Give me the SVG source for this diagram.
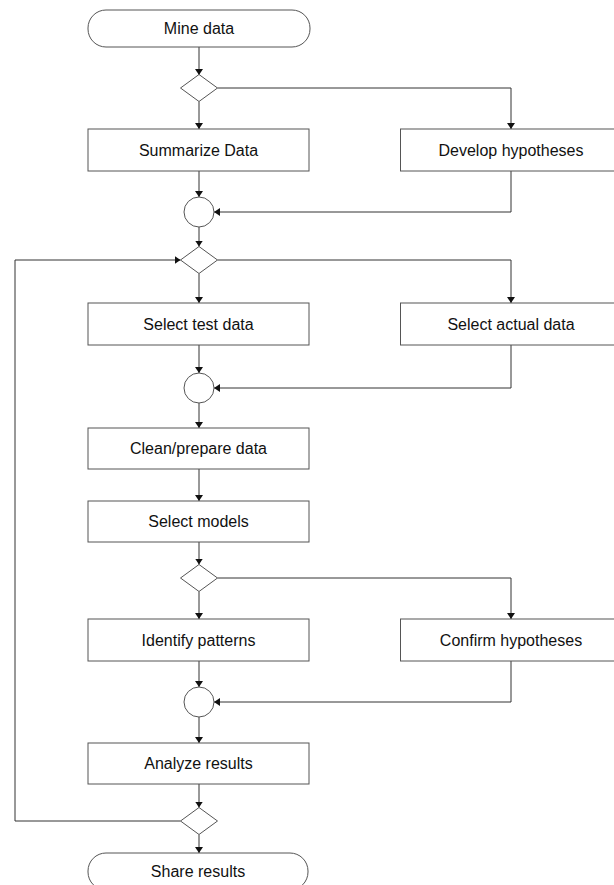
<svg xmlns="http://www.w3.org/2000/svg" width="614" height="885" viewBox="0 0 614 885">
<style>
.shape{fill:#fff;stroke:#555;stroke-width:1}
.lbl{font-family:"Liberation Sans",Arial,sans-serif;font-size:16px;fill:#111;text-anchor:middle}
.conn{fill:none;stroke:#333;stroke-width:1}
</style>
<defs>
<marker id="arr" viewBox="0 0 6 8" refX="6" refY="4" markerWidth="6" markerHeight="8" markerUnits="userSpaceOnUse" orient="auto">
<path d="M0,0 L6,4 L0,8 z" fill="#111"/>
</marker>
</defs>
<rect width="614" height="885" fill="#fff"/>
<g id="connectors">
<path class="conn" d="M199,47 V75" marker-end="url(#arr)"/>
<path class="conn" d="M199,101.5 V129" marker-end="url(#arr)"/>
<path class="conn" d="M217.5,88 H511 V129" marker-end="url(#arr)"/>
<path class="conn" d="M199,171 V197" marker-end="url(#arr)"/>
<path class="conn" d="M511,171 V212 H214" marker-end="url(#arr)"/>
<path class="conn" d="M199,227 V246.5" marker-end="url(#arr)"/>
<path class="conn" d="M199,273.5 V303" marker-end="url(#arr)"/>
<path class="conn" d="M217.5,260 H511 V303" marker-end="url(#arr)"/>
<path class="conn" d="M199,345 V373" marker-end="url(#arr)"/>
<path class="conn" d="M511,345 V388 H214" marker-end="url(#arr)"/>
<path class="conn" d="M199,403 V428" marker-end="url(#arr)"/>
<path class="conn" d="M199,469 V501" marker-end="url(#arr)"/>
<path class="conn" d="M199,542 V564.5" marker-end="url(#arr)"/>
<path class="conn" d="M199,591.5 V619" marker-end="url(#arr)"/>
<path class="conn" d="M217.5,578 H511 V619" marker-end="url(#arr)"/>
<path class="conn" d="M199,661 V687" marker-end="url(#arr)"/>
<path class="conn" d="M511,661 V702 H214" marker-end="url(#arr)"/>
<path class="conn" d="M199,717 V743" marker-end="url(#arr)"/>
<path class="conn" d="M199,784 V807.5" marker-end="url(#arr)"/>
<path class="conn" d="M199,834.5 V853" marker-end="url(#arr)"/>
<path class="conn" d="M180.5,821 H15 V260 H180.5" marker-end="url(#arr)"/>
</g>
<g id="mine-data"><rect class="shape" x="88" y="10" width="222" height="37" rx="18" ry="18"/><text class="lbl" x="199" y="34">Mine data</text></g>
<g id="decision-1"><path class="shape" d="M199,74.5 L217.5,88 L199,101.5 L180.5,88 Z"/></g>
<g id="summarize-data"><rect class="shape" x="88" y="129" width="221" height="42"/><text class="lbl" x="198.5" y="155.7">Summarize Data</text></g>
<g id="develop-hypotheses"><rect class="shape" x="400.5" y="129" width="221" height="42"/><text class="lbl" x="511" y="155.7">Develop hypotheses</text></g>
<g id="merge-1"><circle class="shape" cx="199" cy="212" r="15"/></g>
<g id="decision-2"><path class="shape" d="M199,246.5 L217.5,260 L199,273.5 L180.5,260 Z"/></g>
<g id="select-test-data"><rect class="shape" x="88" y="303" width="221" height="42"/><text class="lbl" x="198.5" y="329.7">Select test data</text></g>
<g id="select-actual-data"><rect class="shape" x="400.5" y="303" width="221" height="42"/><text class="lbl" x="511" y="329.7">Select actual data</text></g>
<g id="merge-2"><circle class="shape" cx="199" cy="388" r="15"/></g>
<g id="clean-prepare-data"><rect class="shape" x="88" y="428" width="221" height="41"/><text class="lbl" x="198.5" y="454.2">Clean/prepare data</text></g>
<g id="select-models"><rect class="shape" x="88" y="501" width="221" height="41"/><text class="lbl" x="198.5" y="527.2">Select models</text></g>
<g id="decision-3"><path class="shape" d="M199,564.5 L217.5,578 L199,591.5 L180.5,578 Z"/></g>
<g id="identify-patterns"><rect class="shape" x="88" y="619" width="221" height="42"/><text class="lbl" x="198.5" y="645.7">Identify patterns</text></g>
<g id="confirm-hypotheses"><rect class="shape" x="400.5" y="619" width="221" height="42"/><text class="lbl" x="511" y="645.7">Confirm hypotheses</text></g>
<g id="merge-3"><circle class="shape" cx="199" cy="702" r="15"/></g>
<g id="analyze-results"><rect class="shape" x="88" y="743" width="221" height="41"/><text class="lbl" x="198.5" y="769.2">Analyze results</text></g>
<g id="decision-4"><path class="shape" d="M199,807.5 L217.5,821 L199,834.5 L180.5,821 Z"/></g>
<g id="share-results"><rect class="shape" x="88" y="853" width="220" height="37" rx="18" ry="18"/><text class="lbl" x="198" y="877">Share results</text></g>
</svg>
